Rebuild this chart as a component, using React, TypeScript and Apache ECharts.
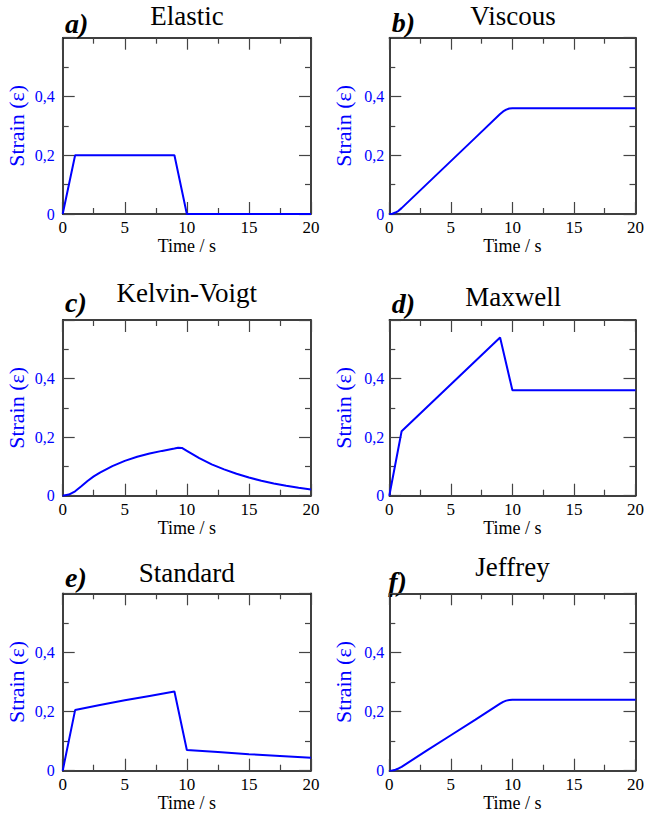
import React, { useEffect, useRef } from "react";
import * as echarts from "echarts";

// ---- data ----
const panelTitles = ["Elastic", "Viscous", "Kelvin-Voigt", "Maxwell", "Standard", "Jeffrey"];
const panelLetters = ["a)", "b)", "c)", "d)", "e)", "f)"];
const xTicks = [0, 5, 10, 15, 20];
const yTicks = [0, 0.2, 0.4, 0.6];

const timeA = [0, 1, 9, 10, 20];
const strainA = [0, 0.2, 0.2, 0, 0];

const timeB = [0, 0.25, 0.5, 0.75, 1, 3, 5, 7, 9, 9.25, 9.5, 9.75, 10, 20];
const strainB = [0, 0.001, 0.005, 0.011, 0.02, 0.1, 0.18, 0.26, 0.34, 0.349, 0.355, 0.359, 0.36, 0.36];

const timeC = [0, 0.5, 1, 1.5, 2, 2.5, 3, 4, 5, 6, 7, 8, 9, 9.3, 9.6, 10, 11, 12, 13, 14, 15, 16, 17, 18, 19, 20];
const strainC = [0, 0.004, 0.015, 0.032, 0.05, 0.066, 0.079, 0.101, 0.119, 0.133, 0.144, 0.153, 0.161, 0.164, 0.163, 0.153, 0.128, 0.107, 0.09, 0.075, 0.062, 0.051, 0.042, 0.034, 0.027, 0.021];

const timeD = [0, 1, 9, 10, 20];
const strainD = [0, 0.22, 0.54, 0.36, 0.36];

const timeE = [0, 1, 3, 5, 7, 9, 10, 12.5, 15, 17.5, 20];
const strainE = [0, 0.205, 0.222, 0.238, 0.253, 0.268, 0.07, 0.063, 0.056, 0.05, 0.044];

const timeF = [0, 0.25, 0.5, 0.75, 1, 3, 5, 7, 9, 9.25, 9.5, 9.75, 10, 20];
const strainF = [0, 0.001, 0.0035, 0.0075, 0.013, 0.067, 0.12, 0.173, 0.227, 0.233, 0.237, 0.239, 0.24, 0.24];

const allTimes = [timeA, timeB, timeC, timeD, timeE, timeF];
const allStrains = [strainA, strainB, strainC, strainD, strainE, strainF];

// ---- layout ----
const colLeft = [62.7, 389.3];
const colWidth = [248.3, 248];
const rowTop = [37.7, 320, 593.3];
const rowHeight = [176.3, 175.7, 177.4];
const titlePos = [
  [187, 25], [513, 25], [186.7, 301.7], [513.3, 306], [186.7, 581.7], [512.5, 576],
];
const letterPos = [
  [65, 32.7], [391.7, 31.7], [65, 311.7], [391.7, 313.3], [65, 587.3], [388.3, 591],
];

const BLUE = "#0000ff";
const SERIF = "Liberation Serif";

export default function App() {
  const ref = useRef<HTMLDivElement>(null);
  useEffect(() => {
    if (!ref.current) return;
    const chart = echarts.init(ref.current, undefined, { renderer: "svg" });
    const grids: any[] = [];
    const xAxes: any[] = [];
    const yAxes: any[] = [];
    const series: any[] = [];
    const graphics: any[] = [];
    const yMax = yTicks[yTicks.length - 1];
    const xMax = xTicks[xTicks.length - 1];
    const xInt = xTicks[1] - xTicks[0];
    const yInt = yTicks[1] - yTicks[0];

    for (let i = 0; i < 6; i++) {
      const col = i % 2;
      const row = Math.floor(i / 2);
      grids.push({
        left: colLeft[col],
        top: rowTop[row],
        width: colWidth[col],
        height: rowHeight[row],
        containLabel: false,
      });
      const axisLine = { show: true, onZero: false, lineStyle: { color: "#000", width: 1.5 } };
      const axisTick = { show: true, inside: true, length: 12, lineStyle: { color: "#444", width: 1.2 } };
      const minorTick = { show: true, splitNumber: 2, length: 6, lineStyle: { color: "#444", width: 1.2 } };
      xAxes.push({
        type: "value", gridIndex: i, position: "bottom", min: xTicks[0], max: xMax, interval: xInt,
        axisLine, axisTick, minorTick, splitLine: { show: false },
        axisLabel: { color: "#000", fontFamily: SERIF, fontSize: 17, margin: 5 },
        name: "Time / s", nameLocation: "middle", nameGap: 22,
        nameTextStyle: { color: "#000", fontFamily: SERIF, fontSize: 18 },
      });
      xAxes.push({
        type: "value", gridIndex: i, position: "top", min: xTicks[0], max: xMax, interval: xInt,
        axisLine, axisTick, minorTick, splitLine: { show: false }, axisLabel: { show: false },
      });
      yAxes.push({
        type: "value", gridIndex: i, position: "left", min: yTicks[0], max: yMax, interval: yInt,
        axisLine, axisTick, minorTick, splitLine: { show: false },
        axisLabel: {
          color: BLUE, fontFamily: SERIF, fontSize: 16, margin: col === 0 ? 8 : 5,
          formatter: (v: number) => (v === 0 ? "0" : Math.abs(v - yMax) < 1e-9 ? "" : v.toFixed(1).replace(".", ",")),
        },
        name: "Strain (\u03b5)", nameLocation: "middle", nameRotate: 90, nameGap: 35,
        nameTextStyle: { color: BLUE, fontFamily: SERIF, fontSize: 22 },
      });
      yAxes.push({
        type: "value", gridIndex: i, position: "right", min: yTicks[0], max: yMax, interval: yInt,
        axisLine, axisTick, minorTick, splitLine: { show: false }, axisLabel: { show: false },
      });
      series.push({
        type: "line", xAxisIndex: 2 * i, yAxisIndex: 2 * i, showSymbol: false, symbol: "none",
        lineStyle: { color: BLUE, width: 2 }, itemStyle: { color: BLUE },
        data: allTimes[i].map((t, k) => [t, allStrains[i][k]]),
        clip: true, silent: true,
      });
      graphics.push({
        type: "text", x: titlePos[i][0], y: titlePos[i][1] - 9.1,
        style: { text: panelTitles[i], fontFamily: SERIF, fontSize: 27, fill: "#000", align: "center", verticalAlign: "middle" },
      });
      graphics.push({
        type: "text", x: letterPos[i][0], y: letterPos[i][1] - 9.45,
        style: { text: panelLetters[i], fontFamily: SERIF, fontSize: 28, fontStyle: "italic", fontWeight: "bold", fill: "#000", align: "left", verticalAlign: "middle" },
      });
    }

    chart.setOption({
      animation: false,
      backgroundColor: "#fff",
      grid: grids,
      xAxis: xAxes,
      yAxis: yAxes,
      series,
      graphic: graphics,
    });
    return () => chart.dispose();
  }, []);
  return (
    <div
      ref={ref}
      style={{ position: "absolute", left: 0, top: 0, width: 647, height: 814, background: "#fff" }}
    />
  );
}
